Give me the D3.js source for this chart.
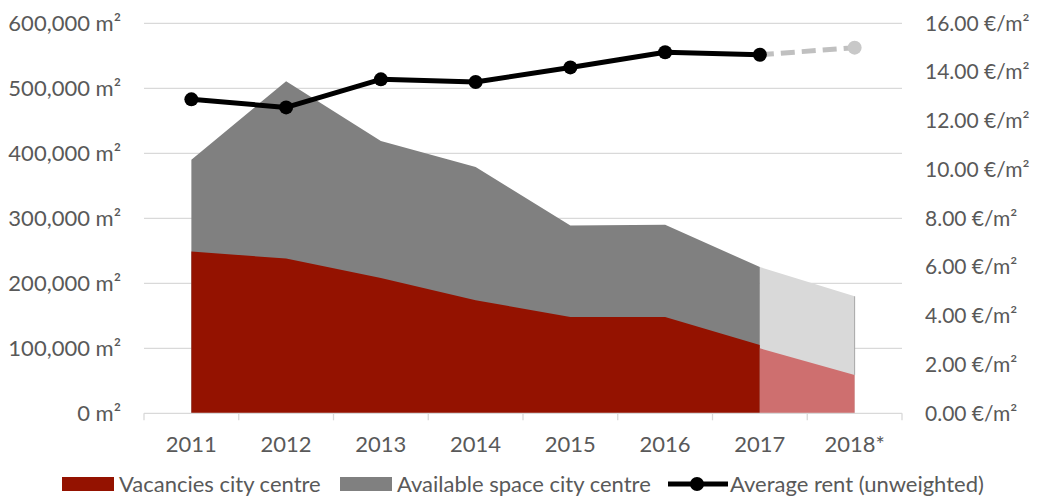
<!DOCTYPE html>
<html>
<head>
<meta charset="utf-8">
<script src="https://cdn.jsdelivr.net/npm/d3@7/dist/d3.min.js"></script>
<style>
  body { margin: 0; background: #fff; }
  text { font-family: Lato, "Open Sans", sans-serif; fill: #595959; font-size: 22px; }
</style>
</head>
<body>
<svg id="chart" width="1037" height="496"></svg>
<script>
var categories = ['2011', '2012', '2013', '2014', '2015', '2016', '2017', '2018*'];
// m² (gray is drawn behind red)
var vacancies = [249000, 238000, 208000, 174000, 148000, 148000, 105000, null];
var availableSpace = [390000, 511000, 419000, 379000, 289000, 290000, 225000, null];
// forecast part (lighter colours)
var vacanciesForecast = [null, null, null, null, null, null, 100000, 59000];
var availableForecast = [null, null, null, null, null, null, 225000, 180000];
// €/m², right axis
var rent = [12.88, 12.55, 13.70, 13.59, 14.19, 14.81, 14.71, 15.00];
var leftTicks = [0, 100000, 200000, 300000, 400000, 500000, 600000];
var rightTicks = [0, 2, 4, 6, 8, 10, 12, 14, 16];

var svg = d3.select('#chart');
var plotL = 144, plotR = 902, plotT = 23.3, plotB = 413.3;

var x = d3.scaleBand().domain(categories).range([plotL, plotR]).padding(0);
var cx = function (c) { return x(c) + x.bandwidth() / 2; };
var y = d3.scaleLinear().domain([0, 600000]).range([plotB, plotT]);
var y2 = d3.scaleLinear().domain([0, 16]).range([plotB, plotT]);

var fmt = d3.format(',');

// gridlines
svg.append('g').selectAll('line')
    .data(leftTicks.slice(1))
    .enter().append('line')
    .attr('x1', plotL).attr('x2', plotR)
    .attr('y1', function (d) { return y(d); })
    .attr('y2', function (d) { return y(d); })
    .attr('stroke', '#d9d9d9').attr('stroke-width', 1.3);

function areaPath(vals) {
    return d3.area()
        .defined(function (d) { return d != null; })
        .x(function (d, i) { return cx(categories[i]); })
        .y0(plotB)
        .y1(function (d) { return y(d); })(vals);
}

svg.append('path').attr('d', areaPath(availableSpace)).attr('fill', '#808080');
svg.append('path').attr('d', areaPath(vacancies)).attr('fill', '#941200');
svg.append('path').attr('d', areaPath(availableForecast)).attr('fill', '#d9d9d9');
svg.append('path').attr('d', areaPath(vacanciesForecast)).attr('fill', '#ce6f6f');
// thin edge at the end of the forecast area
svg.append('line')
    .attr('x1', cx('2018*')).attr('x2', cx('2018*'))
    .attr('y1', y(availableForecast[7])).attr('y2', y(vacanciesForecast[7]))
    .attr('stroke', '#a6a6a6').attr('stroke-width', 1);

// bottom axis
var gx = svg.append('g').attr('transform', 'translate(0,' + plotB + ')');
gx.append('line').attr('x1', plotL).attr('x2', plotR).attr('stroke', '#d9d9d9').attr('stroke-width', 1.3);
gx.selectAll('.tk')
    .data(categories.concat(['end']))
    .enter().append('line')
    .attr('x1', function (d, i) { return plotL + i * x.bandwidth(); })
    .attr('x2', function (d, i) { return plotL + i * x.bandwidth(); })
    .attr('y1', 0).attr('y2', 7)
    .attr('stroke', '#d9d9d9').attr('stroke-width', 1.3);
gx.selectAll('.lbl')
    .data(categories)
    .enter().append('text')
    .attr('x', function (d) { return cx(d); })
    .attr('y', 39)
    .attr('text-anchor', 'middle')
    .text(function (d) { return d; });

// left labels
svg.append('g').selectAll('text')
    .data(leftTicks)
    .enter().append('text')
    .attr('x', 121)
    .attr('y', function (d) { return y(d); })
    .attr('dy', '0.35em')
    .attr('text-anchor', 'end')
    .text(function (d) { return fmt(d) + ' m²'; });

// right labels
svg.append('g').selectAll('text')
    .data(rightTicks)
    .enter().append('text')
    .attr('x', 925)
    .attr('y', function (d) { return y2(d); })
    .attr('dy', '0.35em')
    .style('font-size', '21px')
    .text(function (d) { return d3.format('.2f')(d) + ' €/m²'; });

// rent line
var line = d3.line()
    .x(function (d) { return cx(d.c); })
    .y(function (d) { return y2(d.v); });
var pts = rent.map(function (v, i) { return { c: categories[i], v: v }; });
svg.append('path')
    .attr('d', line(pts.slice(6)))
    .attr('fill', 'none').attr('stroke', '#c0c0c0')
    .attr('stroke-width', 5).attr('stroke-dasharray', '14,7');
svg.append('path')
    .attr('d', line(pts.slice(0, 7)))
    .attr('fill', 'none').attr('stroke', '#000')
    .attr('stroke-width', 5).attr('stroke-linejoin', 'round');
svg.append('g').selectAll('circle')
    .data(pts)
    .enter().append('circle')
    .attr('cx', function (d) { return cx(d.c); })
    .attr('cy', function (d) { return y2(d.v); })
    .attr('r', 7)
    .attr('fill', function (d, i) { return i === 7 ? '#c8c8c8' : '#000'; });

// legend
var lg = svg.append('g');
lg.append('rect').attr('x', 62).attr('y', 477).attr('width', 52).attr('height', 14).attr('fill', '#941200');
lg.append('text').attr('x', 119).attr('y', 484).attr('dy', '0.35em').text('Vacancies city centre');
lg.append('rect').attr('x', 340).attr('y', 477).attr('width', 52).attr('height', 14).attr('fill', '#808080');
lg.append('text').attr('x', 397).attr('y', 484).attr('dy', '0.35em').text('Available space city centre');
lg.append('line').attr('x1', 668).attr('x2', 728).attr('y1', 484).attr('y2', 484).attr('stroke', '#000').attr('stroke-width', 5);
lg.append('circle').attr('cx', 697).attr('cy', 484).attr('r', 7).attr('fill', '#000');
lg.append('text').attr('x', 730).attr('y', 484).attr('dy', '0.35em').text('Average rent (unweighted)');
</script>
</body>
</html>
